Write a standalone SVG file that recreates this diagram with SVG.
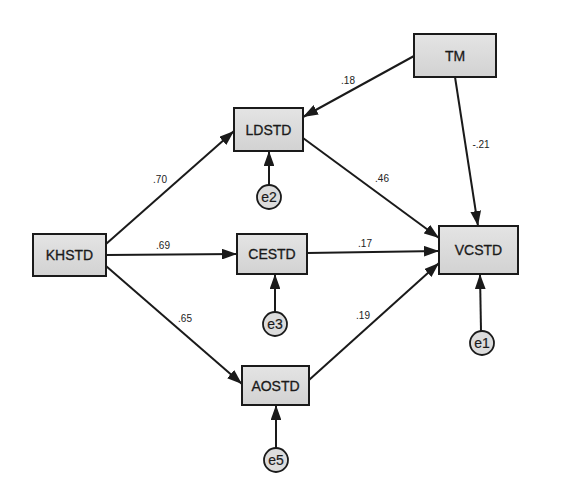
<svg xmlns="http://www.w3.org/2000/svg" width="563" height="483" viewBox="0 0 563 483">
<style>
.box{fill:url(#g);stroke:#1a1a1a;stroke-width:2}
.err{fill:#dcdcdc;stroke:#1a1a1a;stroke-width:1.8}
.nt{font-family:"Liberation Sans",Arial,sans-serif;font-size:14px;fill:#1a1a1a;text-anchor:middle;dominant-baseline:central;stroke:#1a1a1a;stroke-width:0.3}
.et{font-family:"Liberation Sans",Arial,sans-serif;font-size:14px;fill:#1a1a1a;text-anchor:middle;dominant-baseline:central;stroke:#1a1a1a;stroke-width:0.2}
.lb{font-family:"Liberation Sans",Arial,sans-serif;font-size:10px;fill:#222;text-anchor:middle;dominant-baseline:central}
.c{stroke:#1a1a1a;stroke-width:2;fill:none;marker-end:url(#a)}
</style>
<defs>
<linearGradient id="g" x1="0" y1="0" x2="0" y2="1"><stop offset="0" stop-color="#e4e4e4"/><stop offset="1" stop-color="#d2d2d2"/></linearGradient>
<marker id="a" viewBox="0 0 14 10" refX="14" refY="5" markerWidth="7.5" markerHeight="5.4" orient="auto" markerUnits="strokeWidth"><path d="M0,0L14,5L0,10z" fill="#1a1a1a"/></marker>
</defs>
<rect width="563" height="483" fill="#fff"/>
<g id="connectors">
<line class="c" x1="106" y1="244" x2="234" y2="131"/>
<line class="c" x1="106" y1="255" x2="237" y2="254"/>
<line class="c" x1="106" y1="266" x2="242" y2="384"/>
<line class="c" x1="414" y1="56" x2="303" y2="117"/>
<line class="c" x1="455" y1="77" x2="478" y2="226"/>
<line class="c" x1="303" y1="138" x2="439" y2="238"/>
<line class="c" x1="307" y1="253" x2="439" y2="251"/>
<line class="c" x1="309" y1="380" x2="439" y2="263"/>
<line class="c" x1="269" y1="185" x2="269" y2="151"/>
<line class="c" x1="275" y1="312" x2="275" y2="274"/>
<line class="c" x1="276" y1="448" x2="276" y2="405"/>
<line class="c" x1="481" y1="331" x2="480" y2="274"/>
<text class="lb" x="160" y="179">.70</text>
<text class="lb" x="163" y="245">.69</text>
<text class="lb" x="185" y="318">.65</text>
<text class="lb" x="348" y="80">.18</text>
<text class="lb" x="382" y="178">.46</text>
<text class="lb" x="365" y="243">.17</text>
<text class="lb" x="363" y="315">.19</text>
<text class="lb" x="481" y="144">-.21</text>
</g>
<g id="KHSTD"><rect class="box" x="33" y="234" width="73" height="42"/><text class="nt" x="69.5" y="255">KHSTD</text></g>
<g id="LDSTD"><rect class="box" x="234" y="108" width="69" height="43"/><text class="nt" x="268.5" y="129.5">LDSTD</text></g>
<g id="CESTD"><rect class="box" x="237" y="234" width="70" height="40"/><text class="nt" x="272" y="254">CESTD</text></g>
<g id="AOSTD"><rect class="box" x="242" y="366" width="67" height="39"/><text class="nt" x="275.5" y="385.5">AOSTD</text></g>
<g id="TM"><rect class="box" x="414" y="34" width="82" height="43"/><text class="nt" x="455" y="55.5">TM</text></g>
<g id="VCSTD"><rect class="box" x="439" y="226" width="79" height="48"/><text class="nt" x="478.5" y="250">VCSTD</text></g>
<g id="e2"><circle class="err" cx="269" cy="197" r="12"/><text class="et" x="269" y="197">e2</text></g>
<g id="e3"><circle class="err" cx="275" cy="324" r="12"/><text class="et" x="275" y="324">e3</text></g>
<g id="e5"><circle class="err" cx="276" cy="460" r="12"/><text class="et" x="276" y="460">e5</text></g>
<g id="e1"><circle class="err" cx="482" cy="343" r="12"/><text class="et" x="482" y="343">e1</text></g>
</svg>
